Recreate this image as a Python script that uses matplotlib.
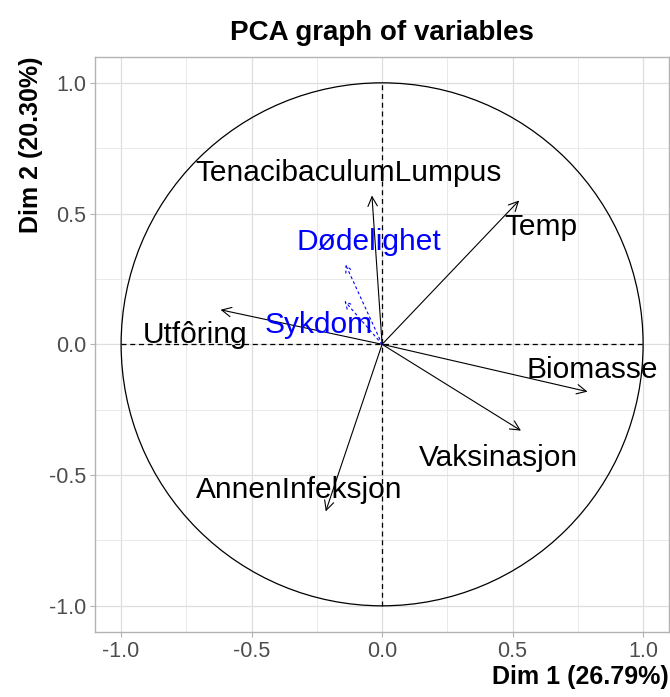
import numpy as np
import matplotlib.pyplot as plt
from matplotlib.patches import Circle

plt.rcParams['font.family'] = ['Liberation Sans', 'DejaVu Sans']

#
#  Data (coordinates on Dim 1 / Dim 2)
#
active_names = ['TenacibaculumLumpus', 'Temp', 'Biomasse', 'Vaksinasjon',
                'AnnenInfeksjon', 'Utfôring']
active_x = [-0.039, 0.525, 0.787, 0.532, -0.216, -0.619]
active_y = [0.569, 0.550, -0.181, -0.330, -0.639, 0.132]
# where the (repelled) labels sit
active_lab_x = [-0.128, 0.610, 0.804, 0.445, -0.318, -0.718]
active_lab_y = [0.656, 0.450, -0.098, -0.434, -0.558, 0.036]

sup_names = ['Dødelighet', 'Sykdom']
sup_x = [-0.140, -0.144]
sup_y = [0.305, 0.166]
sup_lab_x = [-0.049, -0.245]
sup_lab_y = [0.390, 0.073]

title = 'PCA graph of variables'
xlab = 'Dim 1 (26.79%)'
ylab = 'Dim 2 (20.30%)'
ticks = [-1.0, -0.5, 0.0, 0.5, 1.0]
minor_ticks = [-0.75, -0.25, 0.25, 0.75]


fig = plt.figure(figsize=(6.7, 6.97), dpi=100)
ax = fig.add_axes([0.1418, 0.0933, 0.857, 0.8254])

ax.set_xlim(-1.1, 1.1)
ax.set_ylim(-1.1, 1.1)

# theme_light style grid
ax.set_xticks(ticks)
ax.set_yticks(ticks)
ax.set_xticks(minor_ticks, minor=True)
ax.set_yticks(minor_ticks, minor=True)
ax.grid(which='major', color='#DEDEDE', lw=0.9)
ax.grid(which='minor', color='#E6E6E6', lw=0.6)
ax.set_axisbelow(True)
for s in ax.spines.values():
    s.set_color('#B3B3B3')
    s.set_linewidth(1.0)
ax.tick_params(which='major', color='#B3B3B3', length=3.5, width=0.8,
               labelsize=15.5, labelcolor='#4D4D4D', pad=3)
ax.tick_params(which='minor', length=0)
ax.set_xticklabels(['%.1f' % t for t in ticks])
ax.set_yticklabels(['%.1f' % t for t in ticks])

# unit circle and dashed axes
ax.add_patch(Circle((0, 0), 1.0, fill=False, color='black', lw=0.9))
ax.plot([-1, 1], [0, 0], color='black', ls=(0, (4, 3)), lw=0.9)
ax.plot([0, 0], [-1, 1], color='black', ls=(0, (4, 3)), lw=0.9)

# active variable arrows
for name, x, y, lx, ly in zip(active_names, active_x, active_y,
                              active_lab_x, active_lab_y):
    ax.annotate('', xy=(x, y), xytext=(0, 0),
                arrowprops=dict(arrowstyle='->', color='black', lw=0.8,
                                mutation_scale=17, shrinkA=0, shrinkB=0))
    ax.text(lx, ly, name, fontsize=21.5, color='black',
            ha='center', va='center')

# supplementary variable arrows
for name, x, y, lx, ly in zip(sup_names, sup_x, sup_y, sup_lab_x, sup_lab_y):
    ax.annotate('', xy=(x, y), xytext=(0, 0),
                arrowprops=dict(arrowstyle='->', color='#0000FF', lw=0.8,
                                ls=(0, (2, 3)), mutation_scale=12,
                                shrinkA=0, shrinkB=0))
    ax.text(lx, ly, name, fontsize=21.5, color='#0000FF',
            ha='center', va='center')

ax.set_title(title, fontsize=20, fontweight='bold', pad=12)
ax.set_xlabel(xlab, fontsize=18, fontweight='bold', loc='right', labelpad=2)
ax.set_ylabel(ylab, fontsize=18, fontweight='bold', loc='top', labelpad=4)

fig.savefig('out.png', dpi=100)
